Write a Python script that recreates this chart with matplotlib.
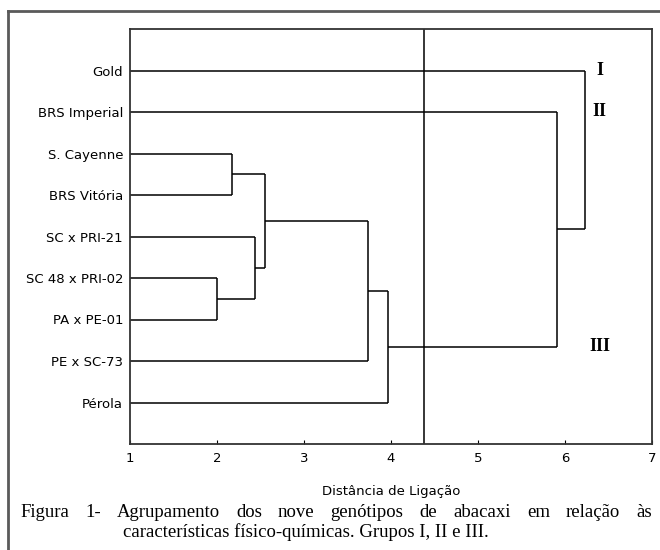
import numpy as np
import matplotlib
matplotlib.use('Agg')
import matplotlib.pyplot as plt
from matplotlib.lines import Line2D

# leaf order, top to bottom
genotypes = ['Gold', 'BRS Imperial', 'S. Cayenne', 'BRS Vitória', 'SC x PRI-21',
             'SC 48 x PRI-02', 'PA x PE-01', 'PE x SC-73', 'Pérola']
# joins: (member a, member b, linkage distance); join i creates cluster 'c<i+1>'
join_a = ['SC 48 x PRI-02', 'S. Cayenne', 'SC x PRI-21', 'c2', 'c4', 'c5', 'BRS Imperial', 'Gold']
join_b = ['PA x PE-01', 'BRS Vitória', 'c1', 'c3', 'PE x SC-73', 'Pérola', 'c6', 'c7']
join_dist = [2.00, 2.17, 2.44, 2.55, 3.74, 3.96, 5.91, 6.23]
cut_dist = 4.38
group_names = ['I', 'II', 'III']
group_nodes = ['Gold', 'BRS Imperial', 'c6']
xticks = [1, 2, 3, 4, 5, 6, 7]

caption1 = 'Figura 1- Agrupamento dos nove genótipos de abacaxi em relação às'
caption2 = 'características físico-químicas. Grupos I, II e III.'

W, H = 660, 550
fig = plt.figure(figsize=(6.6, 5.5), dpi=100)
ax = fig.add_axes([130/W, 1-444/H, (652-130)/W, (444-29)/H])

# outer frame of the figure box
fig.add_artist(Line2D([8/W, 1.0], [1-11/H, 1-11/H], color='#5a5a5a', lw=2))
fig.add_artist(Line2D([8/W, 8/W], [0, 1-11/H], color='#5a5a5a', lw=2))

ypos = {g: i + 1 for i, g in enumerate(genotypes)}
xpos = {g: 1.0 for g in genotypes}
for i, (a, b, d) in enumerate(zip(join_a, join_b, join_dist)):
    for c in (a, b):
        ax.plot([xpos[c], d], [ypos[c], ypos[c]], color='k', lw=1.1, solid_capstyle='butt')
    ax.plot([d, d], [ypos[a], ypos[b]], color='k', lw=1.1, solid_capstyle='butt')
    key = 'c%d' % (i + 1)
    xpos[key] = d
    ypos[key] = (ypos[a] + ypos[b]) / 2

ax.axvline(cut_dist, color='k', lw=1.1)

for name, node in zip(group_names, group_nodes):
    ax.text(join_dist[-1] + 0.17, ypos[node], name, ha='center', va='center',
            fontsize=13, fontweight='bold', family='Liberation Serif')

ax.set_xlim(1, 7)
ax.set_ylim(10, 0)
ax.set_xticks(xticks)
ax.set_xticklabels([str(t) for t in xticks])
ax.set_yticks(range(1, len(genotypes) + 1))
ax.set_yticklabels(genotypes)
ax.tick_params(axis='y', length=0, pad=5, labelsize=9.5)
ax.tick_params(axis='x', direction='in', length=3, pad=6, labelsize=9.5)
for s in ax.spines.values():
    s.set_linewidth(1.3)
    s.set_color('#333333')
ax.set_xlabel('Distância de Ligação', fontsize=9.5, labelpad=14)

# caption, first line justified
x0, x1 = 20, 652
words = caption1.split()
r = fig.canvas.get_renderer()
tw = []
txts = []
for w in words:
    t = fig.text(0, 1-517/H, w, fontsize=13.5, family='Liberation Serif', va='baseline')
    txts.append(t)
    tw.append(t.get_window_extent(r).width)
gap = (x1 - x0 - sum(tw)) / (len(words) - 1)
xc = x0
for t, w in zip(txts, tw):
    t.set_x(xc / W)
    xc += w + gap
fig.text(306/W, 1-537/H, caption2, fontsize=13.5, family='Liberation Serif',
         ha='center', va='baseline')

plt.savefig('out.png', dpi=100)
